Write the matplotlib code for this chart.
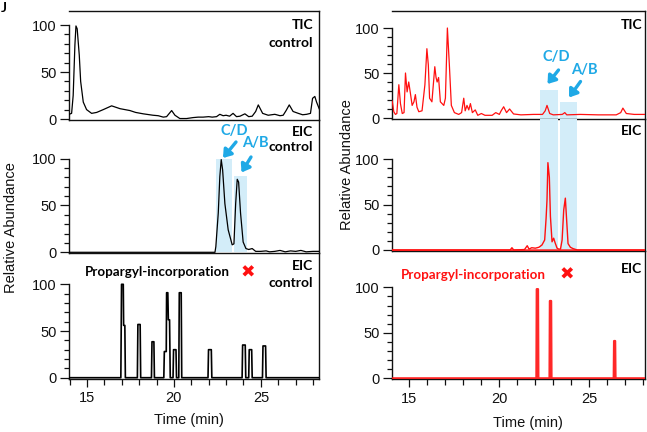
import matplotlib
matplotlib.use('Agg')
import matplotlib.pyplot as plt
from matplotlib.patches import Rectangle, FancyArrowPatch
from matplotlib.ticker import FixedLocator

# ---------------- data ----------------
# Left column (control)
ctl_tic_t = [13.97, 14.12, 14.21, 14.31, 14.37, 14.44, 14.56, 14.64, 14.79, 14.98, 15.27, 15.56,
             15.94, 16.42, 16.9, 17.47, 17.8, 18.24, 18.8, 19.1, 19.39, 19.58, 19.87, 20.06, 20.34,
             20.73, 21.1, 21.4, 21.68, 22.0, 22.2, 22.45, 22.64, 22.83, 23.0, 23.2, 23.4, 23.6,
             23.8, 24.08, 24.3, 24.5, 24.7, 24.85, 25.1, 25.42, 25.8, 26.1, 26.28, 26.45, 26.63,
             26.85, 27.15, 27.4, 27.63, 27.85, 27.97, 28.1, 28.2, 28.35]
ctl_tic_v = [5, 6, 25, 79, 99, 96, 68, 40, 18, 10, 6, 7,
             10, 14, 11, 9, 7, 5.5, 4, 3.5, 2, 2.5, 9, 4, 0.5,
             0.5, 1.5, 2, 2, 2.5, 2, 2.5, 5, 3.5, 4, 3, 6, 2.5,
             3, 5.5, 2.5, 3, 8, 15, 6, 4, 5, 3.5, 4, 9, 15,
             8, 6, 4.5, 5, 6, 22, 24, 18, 11]

ctl_eic_t = [13.97, 22.36, 22.41, 22.55, 22.64, 22.72, 22.8, 22.93, 23.12, 23.35, 23.45, 23.55,
             23.64, 23.72, 23.83, 23.98, 24.14, 24.3, 24.5, 24.7, 25.0, 25.3, 25.5, 25.8, 26.1,
             26.4, 26.7, 27.0, 27.3, 27.6, 28.0, 28.34]
ctl_eic_v = [0, 0, 6, 42, 81, 99, 88, 52, 24, 8, 9, 52,
             78, 75, 42, 11, 4, 3, 4, 1, 1, 1.5, 0.5, 1, 2,
             0.5, 1.5, 1, 2, 0.5, 1, 1]

ctl_prop_t = [13.97, 16.95, 16.99, 17.09, 17.11, 17.18, 17.21, 17.9, 17.93, 18.06, 18.09, 18.71,
              18.74, 18.85, 18.88, 19.42, 19.45, 19.56, 19.58, 19.65, 19.68, 19.75, 19.79, 19.95,
              19.98, 20.12, 20.15, 20.28, 20.31, 20.42, 20.45, 21.96, 21.99, 22.15, 22.18, 23.92,
              23.95, 24.1, 24.13, 24.3, 24.33, 24.47, 24.5, 25.09, 25.12, 25.27, 25.3, 28.34]
ctl_prop_v = [0, 0, 100, 100, 56, 56, 0, 0, 57, 57, 0, 0,
              38.5, 38.5, 0, 0, 28, 28, 91, 91, 62, 62, 0, 0,
              30, 30, 0, 0, 91, 91, 0, 0, 30, 30, 0, 0,
              35, 35, 0, 0, 30, 30, 0, 0, 34, 34, 0, 0]

# Right column (probe)
prb_tic_t = [14.03, 14.04, 14.13, 14.22, 14.3, 14.41, 14.5, 14.6, 14.7, 14.78, 14.87, 14.96, 15.05,
             15.15, 15.25, 15.33, 15.42, 15.52, 15.7, 15.86, 15.97, 16.05, 16.12, 16.25, 16.41,
             16.48, 16.54, 16.62, 16.72, 16.91, 17.0, 17.11, 17.22, 17.33, 17.5, 17.74, 17.9,
             18.02, 18.1, 18.2, 18.3, 18.39, 18.5, 18.66, 18.8, 19.0, 19.2, 19.6, 19.8, 20.0,
             20.1, 20.24, 20.4, 20.57, 20.79, 21.2, 21.9, 22.4, 22.55, 22.65, 22.8, 23.0, 23.5,
             23.64, 23.75, 24.5, 25.5, 26.5, 26.75, 26.87, 27.06, 27.5, 28.1]
prb_tic_v = [19, 19, 7, 4, 5, 37, 16, 5, 6, 50, 29, 40, 28,
             14, 18, 26, 12, 7, 8, 37, 77, 59, 22, 18, 57,
             45, 40, 45, 18, 14, 22, 100, 59, 14, 6, 4, 6,
             22, 8, 14, 9, 16, 6, 9, 3, 5, 3, 3, 6, 4,
             8, 12.5, 6, 10, 4.5, 3.5, 4, 4, 8, 14, 5, 3.5, 4,
             6, 3.5, 4, 3.5, 3.5, 6, 11, 5, 4, 4]

prb_eic_t = [14.03, 20.6, 20.7, 20.8, 21.4, 21.55, 21.65, 21.8, 22.0, 22.2, 22.37, 22.52, 22.6,
             22.65, 22.7, 22.78, 22.84, 22.93, 23.02, 23.1, 23.21, 23.3, 23.4, 23.49, 23.58,
             23.67, 23.73, 23.82, 23.95, 24.1, 24.34, 28.1]
prb_eic_v = [0, 0, 2.5, 0, 0.5, 4.7, 1, 2.5, 2, 3, 5.5, 11, 35,
             55, 96, 80, 37, 9, 13, 8, 2, 1, 1, 11, 44,
             57, 37, 7, 3, 1.5, 0, 0]

prb_prop_t = [14.03, 22.06, 22.08, 22.15, 22.17, 22.79, 22.81, 22.88, 22.9, 26.36, 26.38, 26.44,
              26.46, 28.1]
prb_prop_v = [0, 0, 98, 98, 0, 0, 85, 85, 0, 0, 41, 41, 0, 0]

# highlighted windows (time start, time end, height)
ctl_windows = [(22.41, 23.35, 100), (23.45, 24.18, 81.5)]
prb_windows = [(22.24, 23.24, 31), (23.35, 24.3, 18)]

x_major = [15, 20, 25]
x_minor = list(range(14, 29))
y_major = [0, 50, 100]
y_minor = [10, 20, 30, 40, 60, 70, 80, 90]

# ---------------- figure ----------------
W, H = 647, 432
fig = plt.figure(figsize=(W / 100, H / 100), dpi=100)
TICK_FONT = 'Liberation Sans'
BOLD_FONT = 'Lato'
BLUE = '#1FA9E6'
SHADE = '#D3EDF9'
RED = '#FF1010'


def fx(x):
    return x / W


def fy(y):
    return 1 - y / H


def make_ax(x0, x1, y0, y1):
    return fig.add_axes([fx(x0), fy(y1), (x1 - x0) / W, (y1 - y0) / H])


def style(ax, xlim, ylim, top=False, xticks=False):
    ax.set_xlim(*xlim)
    ax.set_ylim(*ylim)
    ax.patch.set_alpha(0)
    ax.spines['top'].set_visible(top)
    for s in ax.spines.values():
        s.set_linewidth(1.0)
        s.set_color('#111111')
    ax.spines['left'].set_bounds(ylim[0], 100)
    ax.yaxis.set_major_locator(FixedLocator(y_major))
    ax.yaxis.set_minor_locator(FixedLocator(y_minor))
    ax.tick_params(axis='y', which='major', length=6.5, width=0.9, pad=2.5,
                   labelsize=10.5, colors='#111111')
    ax.tick_params(axis='y', which='minor', length=3.6, width=0.9, colors='#111111')
    if xticks:
        ax.xaxis.set_major_locator(FixedLocator(x_major))
        ax.xaxis.set_minor_locator(FixedLocator(x_minor))
        ax.tick_params(axis='x', which='major', length=6, width=0.9, pad=3,
                       labelsize=10.5, colors='#111111')
        ax.tick_params(axis='x', which='minor', length=4, width=0.9, colors='#111111')
    else:
        ax.tick_params(axis='x', which='both', bottom=False, labelbottom=False)
    for lab in ax.get_xticklabels() + ax.get_yticklabels():
        lab.set_fontfamily(TICK_FONT)


L_XLIM = (13.97, 28.34)
R_XLIM = (14.03, 28.1)

axL1 = make_ax(69, 319, 11, 120)
axL2 = make_ax(69, 319, 120, 253.3)
axL3 = make_ax(69, 319, 253.3, 378.7)
axR1 = make_ax(392, 645, 11, 119)
axR2 = make_ax(392, 645, 119, 251)
axR3 = make_ax(392, 645, 251, 379.3)

style(axL1, L_XLIM, (-1.06, 114.9), top=True)
style(axL2, L_XLIM, (-1.07, 141.3))
style(axL3, L_XLIM, (-1.07, 133.2), xticks=True)
style(axR1, R_XLIM, (-1.1, 118.9), top=True)
style(axR2, R_XLIM, (-1.1, 144.0))
style(axR3, R_XLIM, (-1.1, 139.9), xticks=True)

# shaded windows
for (t0, t1, h) in ctl_windows:
    axL2.add_patch(Rectangle((t0, 0), t1 - t0, h, facecolor=SHADE, edgecolor='none', zorder=1))
for (t0, t1, h) in prb_windows:
    axR1.add_patch(Rectangle((t0, -1.1), t1 - t0, h + 1.1, facecolor=SHADE, edgecolor='none', zorder=1))
    axR2.add_patch(Rectangle((t0, 0), t1 - t0, 144.0, facecolor=SHADE, edgecolor='none', zorder=1))

# traces
axL1.plot(ctl_tic_t, ctl_tic_v, color='black', lw=0.9, zorder=3)
axL2.plot(ctl_eic_t, ctl_eic_v, color='black', lw=0.9, zorder=3)
axL3.plot(ctl_prop_t, ctl_prop_v, color='black', lw=1.2, zorder=3)
axR1.plot(prb_tic_t, prb_tic_v, color=RED, lw=0.9, zorder=3)
axR2.plot(prb_eic_t, prb_eic_v, color=RED, lw=1.0, zorder=3)
axR2.plot(R_XLIM, [0, 0], color=RED, lw=1.8, zorder=2.8, alpha=0.9)
axR3.plot(prb_prop_t, prb_prop_v, color=RED, lw=1.6, zorder=3, alpha=0.9)

# axis labels
for ax in (axL3, axR3):
    ax.set_xlabel('Time (min)', fontfamily=TICK_FONT, fontsize=10.5, color='#111111')
axL3.xaxis.set_label_coords((189 - 69) / 250, -(420 - 378.7) / 125.4, transform=axL3.transAxes)
axR3.xaxis.set_label_coords((528 - 392) / 253, -(423 - 379.3) / 128.3, transform=axR3.transAxes)
axL3.xaxis.label.set_va('center')
axR3.xaxis.label.set_va('center')

fig.text(fx(11), fy(228), 'Relative Abundance', rotation=90, ha='center', va='center',
         fontfamily=TICK_FONT, fontsize=10.5, color='#111111')
fig.text(fx(347), fy(165), 'Relative Abundance', rotation=90, ha='center', va='center',
         fontfamily=TICK_FONT, fontsize=10.5, color='#111111')


# panel labels
def btext(x, y, s, color='black', size=10, ha='right'):
    fig.text(fx(x), fy(y), s, ha=ha, va='center', fontfamily=BOLD_FONT, fontweight='bold',
             fontsize=size, color=color)


btext(313, 25, 'TIC')
btext(313, 43, 'control')
btext(313, 132, 'EIC')
btext(313, 147, 'control')
btext(313, 266, 'EIC')
btext(313, 283, 'control')
btext(642, 25, 'TIC')
btext(642, 131, 'EIC')
btext(642, 269, 'EIC')

btext(85, 272, 'Propargyl-incorporation', size=9.6, ha='left')
btext(401, 275, 'Propargyl-incorporation', color=RED, size=9.6, ha='left')
for (x, y) in ((248, 272.5), (566.5, 275)):
    fig.text(fx(x), fy(y), '\u2716', ha='center', va='center', fontfamily='DejaVu Sans',
             fontsize=12.5, color=RED)

fig.text(fx(0.5), fy(8), 'J', ha='left', va='center', fontfamily=BOLD_FONT, fontweight='bold',
         fontsize=10, color='black')

# C/D and A/B labels + arrows
btext(234.5, 131, 'C/D', color=BLUE, size=10.5, ha='center')
btext(255, 143.5, 'A/B', color=BLUE, size=10.5, ha='center')
btext(556.5, 57, 'C/D', color=BLUE, size=10.5, ha='center')
btext(584.5, 70, 'A/B', color=BLUE, size=10.5, ha='center')

arrows = [((236, 142), (223, 158)), ((251, 157), (241.5, 172.5)),
          ((558.5, 70), (547.5, 84)), ((580.5, 81.5), (569, 97.5))]
for tail, head in arrows:
    fig.add_artist(FancyArrowPatch(
        (fx(tail[0]), fy(tail[1])), (fx(head[0]), fy(head[1])),
        transform=fig.transFigure, arrowstyle='-|>,head_width=3.2,head_length=4.5',
        lw=2.4, color=BLUE, shrinkA=0, shrinkB=0, mutation_scale=1))

fig.savefig('out.png', dpi=100)
